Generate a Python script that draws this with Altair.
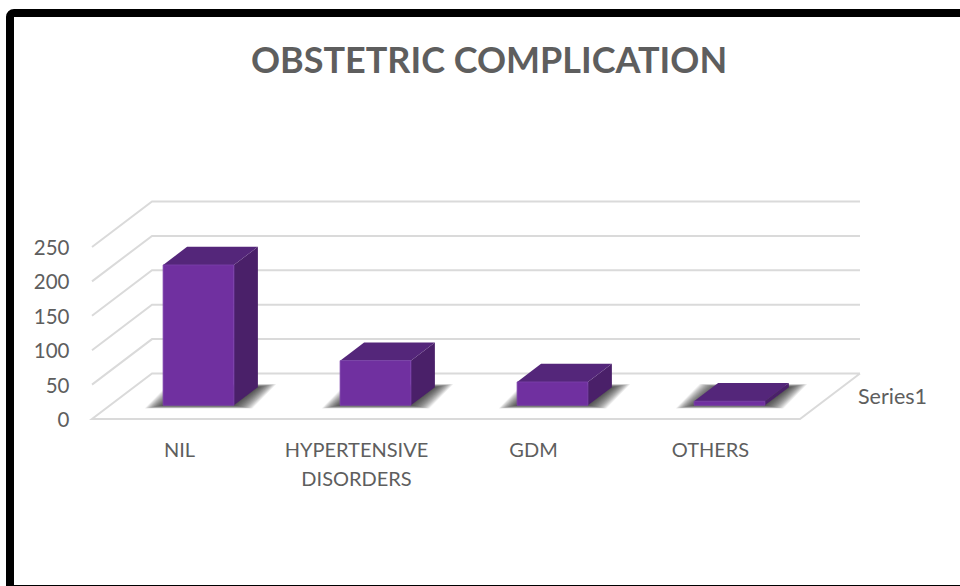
import altair as alt
import pandas as pd

# Chart content
categories = ["NIL", "HYPERTENSIVE\nDISORDERS", "GDM", "OTHERS"]
counts = [204, 65, 34, 6]
y_ticks = [0, 50, 100, 150, 200, 250]
series_name = "Series1"
chart_title = "OBSTETRIC COMPLICATION"

# Canvas and oblique-projection settings
W, H = 960, 586
SLOT_PX = 177.0          # pixels per category slot
UNIT_PX = 34.4 / 50.0    # pixels per count
ORIGIN_X, ORIGIN_Y = 92.0, 419.0
DEPTH_X = 60.0 / SLOT_PX   # slots of sideways shift over the full depth
DEPTH_Y = 45.5 / UNIT_PX   # counts of upward shift over the full depth
BAR_W = 0.4              # bar width, as a fraction of a slot
BAR_D0, BAR_D1 = 0.3, 0.7  # front and back of a bar, as a fraction of the depth
N = len(categories)

FRONT, TOP, SIDE = "#7030A0", "#54267A", "#4A2069"
GRID = "#DADADA"
TEXT = "#5E5E5E"
FONT = "Lato"

x_scale = alt.Scale(domain=[-ORIGIN_X / SLOT_PX, (W - ORIGIN_X) / SLOT_PX], range=[0, W], nice=False, zero=False)
y_scale = alt.Scale(domain=[(ORIGIN_Y - H) / UNIT_PX, ORIGIN_Y / UNIT_PX], range=[H, 0], nice=False, zero=False)

# The value axis is set in against the left end of the gridlines
y_axis = alt.Axis(
    values=y_ticks, title=None, domain=False, ticks=False, grid=False,
    labelFont=FONT, labelFontSize=20.5, labelColor=TEXT, labelPadding=0, labelOffset=1.5,
    offset=-69,
)


def X(field):
    return alt.X(field, type="quantitative", scale=x_scale, axis=None)


def Y(field):
    return alt.Y(field, type="quantitative", scale=y_scale, axis=y_axis)


def px(slot, depth):
    return slot + depth * DEPTH_X


def py(value, depth):
    return value + depth * DEPTH_Y


# Wall and floor gridlines
grid_rows = []
for tick in y_ticks:
    path = [(0, 0), (0, 1), (N, 1)]
    if tick == 0:
        path = [(N, 1), (N, 0), (0, 0), (0, 1), (N, 1)]
    for i, (slot, depth) in enumerate(path):
        grid_rows.append({"tick": tick, "i": i, "x": px(slot, depth), "y": py(tick, depth)})
grid = (
    alt.Chart(pd.DataFrame(grid_rows))
    .mark_line(color=GRID, strokeWidth=2)
    .encode(x=X("x"), y=Y("y"), detail="tick:N", order="i:Q")
)

# Soft floor shadows, built from stacked translucent footprints
shadow_rows = []
for b in range(N):
    left = b + 0.5 - BAR_W / 2
    right = b + 0.5 + BAR_W / 2
    for k in range(24):
        grow_x = (0.5 + 0.78 * k) / SLOT_PX
        grow_y = (0.1 + 0.13 * k) / UNIT_PX
        shadow_rows.append({"g": f"{b}-{k}", "y": py(0, BAR_D0) - grow_y,
                            "x": px(left, BAR_D0) - grow_x, "x2": px(right, BAR_D0) + grow_x})
        shadow_rows.append({"g": f"{b}-{k}", "y": py(0, BAR_D1) + grow_y,
                            "x": px(left, BAR_D1) - grow_x, "x2": px(right, BAR_D1) + grow_x})
shadow = (
    alt.Chart(pd.DataFrame(shadow_rows))
    .mark_area(orient="horizontal", color="#262626", opacity=0.055)
    .encode(y=Y("y"), x=X("x"), x2="x2:Q", detail="g:N")
)

# Three faces of every bar, projected from its count
front_rows, top_rows, side_rows = [], [], []
for b, value in enumerate(counts):
    left = b + 0.5 - BAR_W / 2
    right = b + 0.5 + BAR_W / 2
    front_rows.append({"x": px(left, BAR_D0), "x2": px(right, BAR_D0),
                       "y": py(0, BAR_D0), "y2": py(value, BAR_D0)})
    for depth in (BAR_D0, BAR_D1):
        top_rows.append({"b": b, "y": py(value, depth), "x": px(left, depth), "x2": px(right, depth)})
        side_rows.append({"b": b, "x": px(right, depth), "y": py(0, depth), "y2": py(value, depth)})

side = (
    alt.Chart(pd.DataFrame(side_rows))
    .mark_area(orient="vertical", color=SIDE)
    .encode(x=X("x"), y=Y("y"), y2="y2:Q", detail="b:N")
)
top = (
    alt.Chart(pd.DataFrame(top_rows))
    .mark_area(orient="horizontal", color=TOP)
    .encode(y=Y("y"), x=X("x"), x2="x2:Q", detail="b:N")
)
front = (
    alt.Chart(pd.DataFrame(front_rows))
    .mark_rect(color=FRONT, stroke="#7C42AC", strokeWidth=0.8)
    .encode(x=X("x"), x2="x2:Q", y=Y("y"), y2="y2:Q")
)

# Category labels under the floor and the series label beside it
cat_labels = (
    alt.Chart(pd.DataFrame({"label": categories, "x": [i + 0.5 for i in range(N)], "y": [-31.5] * N}))
    .mark_text(font=FONT, fontSize=20, color=TEXT, lineBreak="\n", lineHeight=29, baseline="top", align="center", dx=-1)
    .encode(x=X("x"), y=Y("y"), text="label:N")
)
series_label = (
    alt.Chart(pd.DataFrame({"label": [series_name], "x": [px(N, 0.5)], "y": [py(0, 0.5)]}))
    .mark_text(font=FONT, fontSize=21.5, color=TEXT, align="left", baseline="middle", dx=28, dy=2)
    .encode(x=X("x"), y=Y("y"), text="label:N")
)

title = (
    alt.Chart(pd.DataFrame({"label": [chart_title]}))
    .mark_text(font=FONT, fontSize=36, fontWeight="bold", color=TEXT, align="center", baseline="middle")
    .encode(x=alt.value(489), y=alt.value(62), text="label:N")
)

# Heavy black frame, running past the right and bottom of the canvas
frame = (
    alt.Chart(pd.DataFrame({"f": [0]}))
    .mark_rect(fill="transparent", stroke="#000000", strokeWidth=8, cornerRadius=4)
    .encode(x=alt.value(10), x2=alt.value(W + 20), y=alt.value(13), y2=alt.value(H + 3))
)

chart = (
    alt.layer(grid, shadow, side, top, front, cat_labels, series_label, title, frame)
    .properties(width=W, height=H, padding=0, autosize=alt.AutoSizeParams(type="none"), background="white")
    .configure_view(stroke=None)
)

chart.save("out.html", embed_options={"renderer": "svg", "actions": False})
